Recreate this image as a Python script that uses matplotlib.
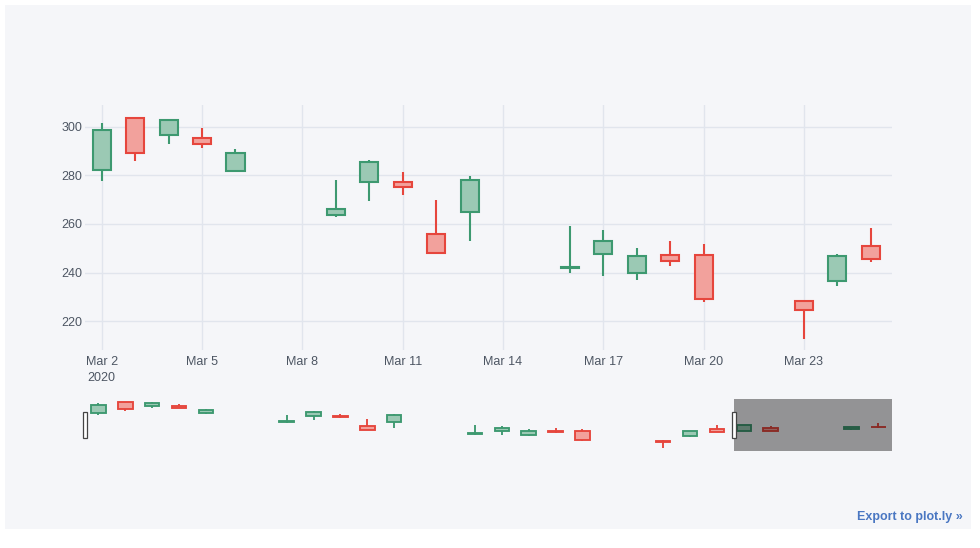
import matplotlib
matplotlib.use("Agg")
import matplotlib.pyplot as plt
import matplotlib.dates as mdates
import matplotlib.transforms as mtransforms
from matplotlib.patches import Rectangle
import pandas as pd

# AAPL daily prices, March 2020
dates = ["2020-03-02", "2020-03-03", "2020-03-04", "2020-03-05", "2020-03-06",
         "2020-03-09", "2020-03-10", "2020-03-11", "2020-03-12", "2020-03-13",
         "2020-03-16", "2020-03-17", "2020-03-18", "2020-03-19", "2020-03-20",
         "2020-03-23", "2020-03-24", "2020-03-25", "2020-03-26", "2020-03-27",
         "2020-03-30", "2020-03-31"]
opens = [282.28, 303.67, 296.44, 295.52, 282.00, 263.75, 277.14, 277.39, 255.94, 264.89,
         241.95, 247.51, 239.77, 247.39, 247.18, 228.08, 236.36, 250.75, 246.52, 252.75,
         250.74, 255.60]
highs = [301.44, 304.00, 303.40, 299.55, 290.82, 278.09, 286.44, 281.22, 270.00, 279.92,
         259.08, 257.61, 250.00, 252.84, 251.83, 228.50, 247.69, 258.25, 258.68, 255.87,
         255.52, 262.49]
lows = [277.72, 285.80, 293.13, 291.41, 281.23, 263.00, 269.37, 271.86, 248.00, 252.95,
        240.00, 238.40, 237.12, 242.61, 228.00, 212.61, 234.30, 244.30, 246.36, 247.05,
        249.40, 252.00]
closes = [298.81, 289.32, 302.74, 292.92, 289.03, 266.17, 285.34, 275.43, 248.23, 277.97,
          242.21, 252.86, 246.67, 244.78, 229.24, 224.37, 246.88, 245.52, 258.44, 247.74,
          254.81, 254.29]

view_start = "2020-03-01 12:00"
view_end = "2020-03-25 15:00"
tick_dates = ["2020-03-02", "2020-03-05", "2020-03-08", "2020-03-11",
              "2020-03-14", "2020-03-17", "2020-03-20", "2020-03-23"]
tick_labels = ["Mar 2\n2020", "Mar 5", "Mar 8", "Mar 11", "Mar 14", "Mar 17", "Mar 20", "Mar 23"]
y_ticks = [220, 240, 260, 280, 300]

BG = "#F5F6F9"
GRID = "#E1E5ED"
TXT = "#4D5663"
UP_LINE, UP_FILL = "#3D9970", "#9BC9B4"
DN_LINE, DN_FILL = "#E6463D", "#F2A19C"

plt.rcParams["font.family"] = ["Liberation Sans", "DejaVu Sans"]

x = mdates.date2num(pd.to_datetime(dates))


def draw_candles(ax, lw, width=0.54):
    for xi, o, h, l, c in zip(x, opens, highs, lows, closes):
        up = c >= o
        line = UP_LINE if up else DN_LINE
        fill = UP_FILL if up else DN_FILL
        top, bot = max(o, c), min(o, c)
        ax.vlines(xi, top, h, color=line, lw=lw, zorder=2)
        ax.vlines(xi, l, bot, color=line, lw=lw, zorder=2)
        ax.bar(xi, top - bot, bottom=bot, width=width, facecolor=fill,
               edgecolor=line, linewidth=lw, zorder=3)


fig = plt.figure(figsize=(9.8, 5.48), dpi=100, facecolor="white")
fig.patches.append(Rectangle((5 / 980, 19 / 548), 966 / 980, 524 / 548,
                             transform=fig.transFigure, facecolor=BG,
                             edgecolor="none", zorder=-10))

# main chart
ax = fig.add_axes([85 / 980, 198 / 548, 806.7 / 980, 245 / 548])
ax.set_facecolor(BG)
draw_candles(ax, lw=1.5)
ax.set_xlim(mdates.datestr2num(view_start), mdates.datestr2num(view_end))
ax.set_ylim(208.1, 309.0)
ax.set_xticks(mdates.date2num(pd.to_datetime(tick_dates)))
ax.set_xticklabels(tick_labels, linespacing=1.45)
ax.set_yticks(y_ticks)
ax.grid(True, color=GRID, lw=1)
ax.set_axisbelow(True)
for s in ax.spines.values():
    s.set_visible(False)
ax.tick_params(length=0, labelsize=9, labelcolor=TXT)
ax.tick_params(axis="x", pad=4)
ax.tick_params(axis="y", pad=2)

# range slider
sl = fig.add_axes([85 / 980, 97 / 548, 806.7 / 980, 52 / 548])
sl.set_facecolor(BG)
draw_candles(sl, lw=1.35)
sl.set_xlim(x[0] - 0.5, x[-1] + 0.5)
sl.set_ylim(207.5, 310.0)
sl.set_xticks([])
sl.set_yticks([])
for s in sl.spines.values():
    s.set_visible(False)
sl.axvspan(mdates.datestr2num(view_end), x[-1] + 0.5, color="black", alpha=0.4, lw=0, zorder=5)

trans = mtransforms.blended_transform_factory(sl.transData, sl.transAxes)
hw = 4 / 26.9
for hx in [x[0] - 0.5, mdates.datestr2num(view_end)]:
    sl.add_patch(Rectangle((hx - hw / 2, 0.25), hw, 0.5, transform=trans,
                           facecolor="white", edgecolor="#444444", lw=0.9,
                           zorder=6, clip_on=False))

fig.text(963 / 980, 1 - 517 / 548, "Export to plot.ly \u00bb", ha="right", va="center",
         fontsize=9, fontweight="bold", color="#4A77C2")

fig.savefig("out.png", dpi=100, facecolor="white")
